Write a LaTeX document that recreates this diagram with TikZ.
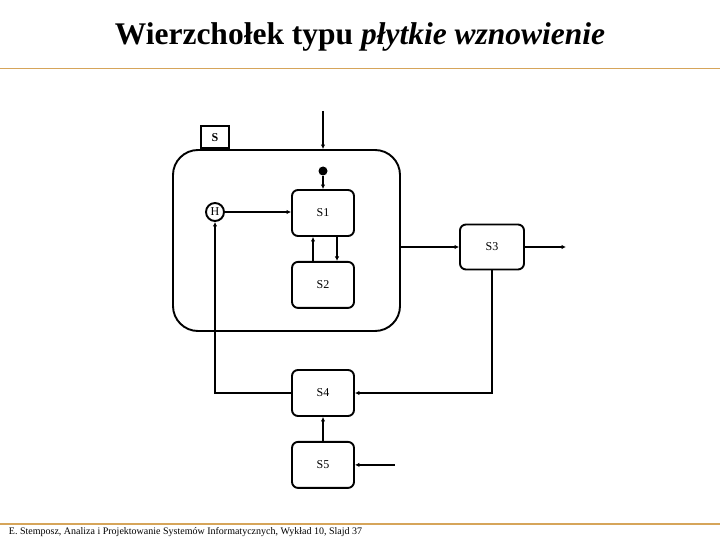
\documentclass[tikz,border=0pt]{standalone}
\usepackage{fontspec}
\setmainfont{Liberation Serif}
\usetikzlibrary{arrows.meta, positioning, calc}
\definecolor{RuleGold}{HTML}{D6A55A}

\begin{document}
\begin{tikzpicture}[x=1pt, y=-1pt, line width=1.9pt,
    state/.style={draw, rounded corners=6pt, minimum width=62pt, minimum height=46pt, font=\fontsize{12}{14}\selectfont, inner sep=0pt},
    flow/.style={-{Latex[length=4.5pt, width=4.5pt]}}]
    \useasboundingbox (0,0) rectangle (720,540);
    % title and rules
    \node[font=\fontsize{31.5}{36}\selectfont\bfseries] (title) at (360,37) {Wierzchołek typu \textit{płytkie wznowienie}};
    \draw[RuleGold, line width=1.2pt] (0,68.5) -- (720,68.5);
    \draw[RuleGold, line width=1.2pt] (0,524) -- (720,524);
    \node[anchor=west, font=\fontsize{10}{12}\selectfont, inner sep=0pt] (foot) at (8,532) {E. Stemposz, Analiza i Projektowanie Systemów Informatycznych, Wykład 10, Slajd 37};

    % superstate S
    \node[draw, rounded corners=25pt, minimum width=227pt, minimum height=181pt] (big) at (286.5,240.5) {};
    \node[draw, anchor=south west, minimum width=28pt, minimum height=22pt, inner sep=0pt, font=\fontsize{12}{14}\selectfont\bfseries] (tab) at ([xshift=28pt]big.north west) {S};

    \node[state] (s1) at (323,213) {S1};
    \node[state, below=24pt of s1] (s2) {S2};
    \node[draw, circle, minimum size=18pt, inner sep=0pt, font=\fontsize{12}{14}\selectfont] (hist) at (215,212) {H};
    \node[fill, circle, minimum size=9pt, inner sep=0pt] (init) at (323,171) {};

    \node[state, minimum width=64pt, minimum height=45pt] (s3) at (492,247) {S3};
    \node[state] (s4) at (323,393) {S4};
    \node[state, below=24pt of s4] (s5) {S5};

    \coordinate (entry) at (323,111);
    \coordinate (exit) at (566,247);
    \coordinate[right=40pt of s5.east] (ext);

    % transitions
    \draw[flow] (entry) -- (entry |- big.north);
    \draw[flow] (init) -- (s1);
    \draw[flow] (hist) -- (hist -| s1.west);
    \draw[flow] ([xshift=-10pt]s2.north) -- ([xshift=-10pt]s1.south);
    \draw[flow] ([xshift=14pt]s1.south) -- ([xshift=14pt]s2.north);
    \draw[flow] (big.east |- s3) -- (s3);
    \draw[flow] (s3) -- (exit);
    \draw[flow] (s3.south) |- (s4.east);
    \draw[flow] (s4.west) -| (hist.south);
    \draw[flow] (s5) -- (s4);
    \draw[flow] (ext) -- (s5.east);
\end{tikzpicture}
\end{document}
